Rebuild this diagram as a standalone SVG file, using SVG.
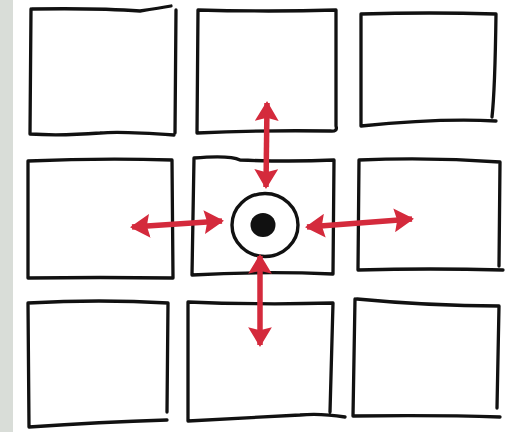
<svg xmlns="http://www.w3.org/2000/svg" width="525" height="432" viewBox="0 0 525 432">
<style>
.box{fill:none;stroke:#111;stroke-width:3.3;stroke-linecap:round;stroke-linejoin:round}
.arr{fill:none;stroke:#d42a3c;stroke-width:5.5;stroke-linecap:butt}
</style>
<defs>
<marker id="ah" viewBox="0 0 10 12" refX="9" refY="6" markerWidth="3.6" markerHeight="4.4" orient="auto-start-reverse" markerUnits="strokeWidth">
<path d="M0,0 L10,6 L0,12 L1.5,6 Z" fill="#d42a3c"/>
</marker>
</defs>
<rect x="0" y="0" width="525" height="432" fill="#fff"/>
<rect x="0" y="0" width="13" height="432" fill="#d9ddd8"/>
<g id="box-tl"><path class="box" d="M32,9 Q100,8 140,11 Q160,8 171,6 M176,10 L175,133 M174,135 Q120,131 100,133 Q60,136 30,134 L31,9"/></g>
<g id="box-tm"><path class="box" d="M198,10 Q270,12 336,10 L336,126 Q338,132 330,131 Q260,130 197,133 L198,10"/></g>
<g id="box-tr"><path class="box" d="M361,14 Q430,12 496,14 Q495,90 492,117 M496,121 Q440,118 361,126 L361,14"/></g>
<g id="box-ml"><path class="box" d="M28,161 Q100,158 172,160 L173,278 Q100,277 28,278 L28,161"/></g>
<g id="box-mm"><path class="box" d="M194,158 Q230,155 240,160 Q290,162 334,160 L333,274 Q260,271 192,275 L194,158"/></g>
<g id="box-mr"><path class="box" d="M359,160 Q430,157 500,162 L499,266 M503,270 Q430,268 358,270 L359,160"/></g>
<g id="box-bl"><path class="box" d="M28,303 Q100,299 168,303 L167,412 M167,420 Q100,422 29,427 L28,303"/></g>
<g id="box-bm"><path class="box" d="M188,302 Q260,305 333,303 L330,412 M345,417 Q320,413 300,415 Q240,418 188,421 L188,302"/></g>
<g id="box-br"><path class="box" d="M357,299 Q430,306 499,306 L497,408 M500,417 Q440,415 353,416 L355,299"/></g>
<g id="center">
<ellipse cx="265" cy="225" rx="33" ry="31.5" fill="#fff" stroke="#111" stroke-width="3.4"/>
<ellipse cx="263" cy="225" rx="12.5" ry="12" fill="#111"/>
</g>
<g id="connectors">
<path class="arr" d="M267,103 L266,187" marker-start="url(#ah)" marker-end="url(#ah)"/>
<path class="arr" d="M260,256 L260,345" marker-start="url(#ah)" marker-end="url(#ah)"/>
<path class="arr" d="M132,227 L222,221" marker-start="url(#ah)" marker-end="url(#ah)"/>
<path class="arr" d="M307,227 L412,219" marker-start="url(#ah)" marker-end="url(#ah)"/>
</g>
</svg>
